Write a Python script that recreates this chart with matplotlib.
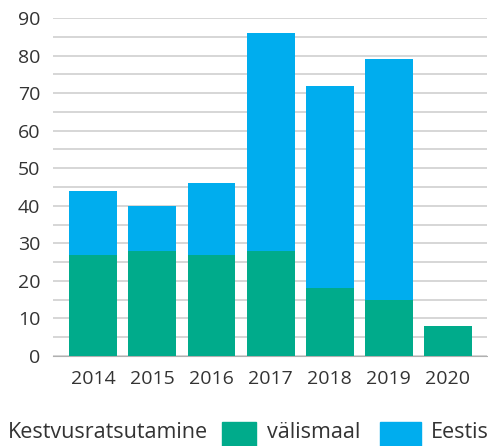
import matplotlib.pyplot as plt
from matplotlib.patches import Rectangle
import numpy as np

years = ['2014', '2015', '2016', '2017', '2018', '2019', '2020']
valismaal = [27, 28, 27, 28, 18, 15, 8]
eestis = [17, 12, 19, 58, 54, 64, 0]

green = '#00AB8B'
blue = '#00ADEE'
txt = '#333333'

plt.rcParams['font.family'] = ['Open Sans', 'DejaVu Sans']

fig = plt.figure(figsize=(4.88, 4.46), dpi=100)
ax = fig.add_axes([53 / 488, 1 - 356 / 446, 434 / 488, 338 / 446])

x = np.arange(len(years))
ax.bar(x, valismaal, width=0.81, color=green, zorder=3)
ax.bar(x, eestis, width=0.81, bottom=valismaal, color=blue, zorder=3)

ax.set_ylim(0, 90)
ax.set_xlim(-0.68, 6.66)
ax.set_yticks(range(0, 91, 10))
ax.set_yticks(range(5, 90, 10), minor=True)
ax.grid(axis='y', which='both', color='#cccccc', linewidth=1.1, zorder=0)
ax.tick_params(axis='y', which='both', length=0, pad=9, labelsize=14, labelcolor=txt)
ax.set_xticks(x)
ax.set_xticklabels(years)
ax.tick_params(axis='x', length=0, pad=10, labelsize=14, labelcolor=txt)
for s in ['top', 'right', 'left']:
    ax.spines[s].set_visible(False)
ax.spines['bottom'].set_color('#b0b0b0')

# legend row
ly = 1 - 432 / 446
fig.text(8 / 488, ly, 'Kestvusratsutamine', fontsize=15.5,
         color=txt, va='center', ha='left')
fig.patches.append(Rectangle((222 / 488, 0), 34 / 488, 24 / 446,
                             transform=fig.transFigure, color=green))
fig.text(267 / 488, ly, 'välismaal', fontsize=15.5,
         color=txt, va='center', ha='left')
fig.patches.append(Rectangle((380 / 488, 0), 41 / 488, 24 / 446,
                             transform=fig.transFigure, color=blue))
fig.text(431 / 488, ly, 'Eestis', fontsize=15.5,
         color=txt, va='center', ha='left')

fig.savefig('out.png', dpi=100)
